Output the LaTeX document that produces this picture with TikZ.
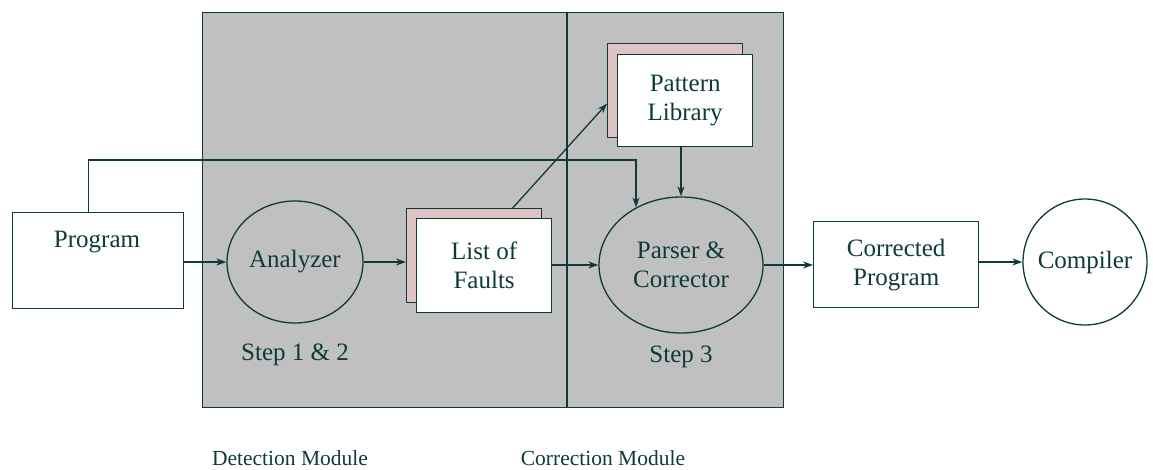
\documentclass[tikz,border=0pt]{standalone}
\usepackage{fontspec}
\setmainfont{Liberation Serif}
\usetikzlibrary{shapes.geometric,arrows.meta}
\definecolor{ink}{RGB}{14,58,58}
\definecolor{panel}{RGB}{192,192,192}
\definecolor{shadowbox}{RGB}{222,196,196}
\tikzset{
  ink/.style={draw=ink, line width=1.3pt},
  box/.style={ink, rectangle, fill=white, inner sep=0pt, anchor=north west},
  backbox/.style={ink, rectangle, fill=shadowbox, inner sep=0pt, anchor=north west},
  oval/.style={ink, ellipse, inner sep=0pt},
  txt/.style={text=ink, font=\fontsize{25}{29}\selectfont, align=center, inner sep=0pt},
  caption/.style={txt, font=\fontsize{21.5}{26}\selectfont},
  arr/.style={draw=ink, line width=1.3pt, -{Stealth[length=10pt,width=7pt]}},
  wire/.style={draw=ink, line width=1.3pt}
}
\begin{document}
\begin{tikzpicture}[x=1pt,y=-1pt]
\useasboundingbox (0,0) rectangle (1153,470);

% module panels
\node[ink, fill=panel, rectangle, inner sep=0pt, anchor=north west,
      minimum width=581pt, minimum height=395pt] (panel) at (202,12) {};
\draw[wire] (567,12) -- (567,407);

% input program
\node[box, minimum width=171pt, minimum height=96pt] (prog) at (12,212) {};
\node[txt] (progtxt) at (97,242) {Program};

% step 1 & 2
\node[oval, fill=panel, minimum width=136pt, minimum height=122pt] (ana) at (295,262) {};
\node[txt] (anatxt) at (295,262) {Analyzer};
\node[txt] (step12) at (295,355) {Step 1 \& 2};

% list of faults (stacked)
\node[backbox, minimum width=135pt, minimum height=94pt] (lofback) at (406,208) {};
\node[box, minimum width=135pt, minimum height=94pt] (lof) at (416,218) {};
\node[txt] (loftxt) at (lof.center) {List of\\Faults};

% pattern library (stacked)
\node[backbox, minimum width=135pt, minimum height=94pt] (patback) at (607,43) {};
\node[box, minimum width=135pt, minimum height=92pt] (pat) at (617,54) {};
\node[txt] (pattxt) at (pat.center) {Pattern\\Library};

% step 3
\node[oval, fill=panel, minimum width=164pt, minimum height=136pt] (par) at (681,265) {};
\node[txt] (partxt) at (681,265) {Parser \&\\Corrector};
\node[txt] (step3) at (681,357) {Step 3};

% output side
\node[box, minimum width=165pt, minimum height=86pt] (cp) at (813,221) {};
\node[txt] (cptxt) at (cp.center) {Corrected\\Program};
\node[oval, fill=white, minimum width=124pt, minimum height=126pt] (comp) at (1085,262) {};
\node[txt] (comptxt) at (1085,262) {Compiler};

% module captions
\node[caption] (detlbl) at (290,458) {Detection Module};
\node[caption] (corlbl) at (603,458) {Correction Module};

% connectors
\coordinate (busR) at (636,160);
\draw[arr] ([xshift=-9.5pt]prog.north) |- (busR) -- (busR |- par.128);
\draw[arr] (prog.east |- ana.west) -- (ana.west);
\draw[arr] (ana.east) -- (lofback.west |- ana.east);
\draw[arr] (lof.east |- par.west) -- (par.west);
\draw[arr] ([xshift=38.5pt]lofback.north) -- ([yshift=-13pt]patback.west);
\draw[arr] (pat.south -| par.north) -- (par.north);
\draw[arr] (par.east) -- (cp.west |- par.east);
\draw[arr] (cp.east |- comp.west) -- (comp.west);
\end{tikzpicture}
\end{document}
